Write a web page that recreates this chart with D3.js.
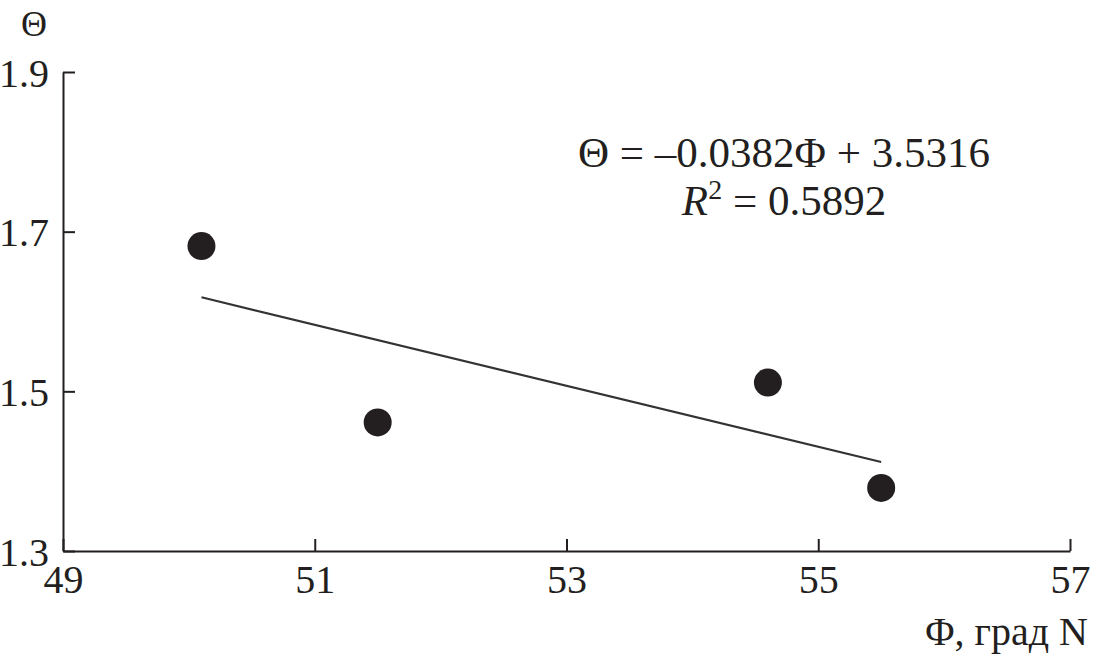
<!DOCTYPE html>
<html><head><meta charset="utf-8">
<script src="https://cdn.jsdelivr.net/npm/d3@7"></script>
<style>
html,body{margin:0;padding:0;background:#fff;}
svg{display:block;font-family:"Liberation Serif","Times New Roman",serif;}
</style></head>
<body><svg id="c" width="1093" height="656"></svg>
<script>
const latitude = [50.1, 51.5, 54.6, 55.5];
const theta = [1.682, 1.461, 1.511, 1.379];
const xTicks = [49, 51, 53, 55, 57];
const yTicks = [1.3, 1.5, 1.7, 1.9];
const slope = -0.0382, intercept = 3.5316;
const fitRange = [50.1, 55.5];
const eqText = "Θ = –0.0382Φ + 3.5316";
const r2Value = "0.5892";
const xTitle = "Φ, град N";
const yTitle = "Θ";

const ink = "#231f20";
const svg = d3.select("#c");
const x = d3.scaleLinear().domain([49, 57]).range([63, 1070]);
const y = d3.scaleLinear().domain([1.3, 1.9]).range([551, 72]);

const xa = svg.append("g").attr("transform", `translate(0,${y(1.3)})`)
  .call(d3.axisBottom(x).tickValues(xTicks).tickFormat(d3.format("d")).tickSize(-12).tickSizeOuter(0).tickPadding(14));
const ya = svg.append("g").attr("transform", `translate(${x(49)},0)`)
  .call(d3.axisLeft(y).tickValues(yTicks).tickFormat(d3.format(".1f")).tickSize(-12).tickSizeOuter(0).tickPadding(14));
[xa, ya].forEach(g => {
  g.attr("font-family", null).attr("font-size", null);
  g.selectAll("path,line").attr("stroke", ink).attr("stroke-width", 2);
  g.selectAll("text").attr("fill", ink).style("font-size", "40px");
});
xa.selectAll("text").attr("dy", "0.71em");
ya.selectAll("text").attr("dy", "0.35em");
// y-axis line extends to 1.9 via domain path (from range)

// regression line
svg.append("line")
  .attr("x1", x(fitRange[0])).attr("y1", y(slope * fitRange[0] + intercept))
  .attr("x2", x(fitRange[1])).attr("y2", y(slope * fitRange[1] + intercept))
  .attr("stroke", "#333").attr("stroke-width", 2.2);

// points
svg.selectAll("circle.pt").data(latitude.map((v, i) => [v, theta[i]])).enter()
  .append("circle").attr("class", "pt")
  .attr("cx", d => x(d[0])).attr("cy", d => y(d[1])).attr("r", 14)
  .attr("fill", ink);

// equation
svg.append("text").attr("x", 784).attr("y", 167).attr("text-anchor", "middle")
  .attr("fill", ink).style("font-size", "43px").text(eqText);
const t2 = svg.append("text").attr("x", 784).attr("y", 215).attr("text-anchor", "middle")
  .attr("fill", ink).style("font-size", "43px");
t2.append("tspan").attr("font-style", "italic").text("R");
t2.append("tspan").attr("dy", -16).style("font-size", "28px").text("2");
t2.append("tspan").attr("dy", 16).text(" = " + r2Value);

// axis titles
svg.append("text").attr("x", 1088).attr("y", 645).attr("text-anchor", "end")
  .attr("fill", ink).style("font-size", "40px").text(xTitle);
svg.append("text").attr("x", 34).attr("y", 36).attr("text-anchor", "middle")
  .attr("fill", ink).style("font-size", "36px").text(yTitle);
</script></body></html>
